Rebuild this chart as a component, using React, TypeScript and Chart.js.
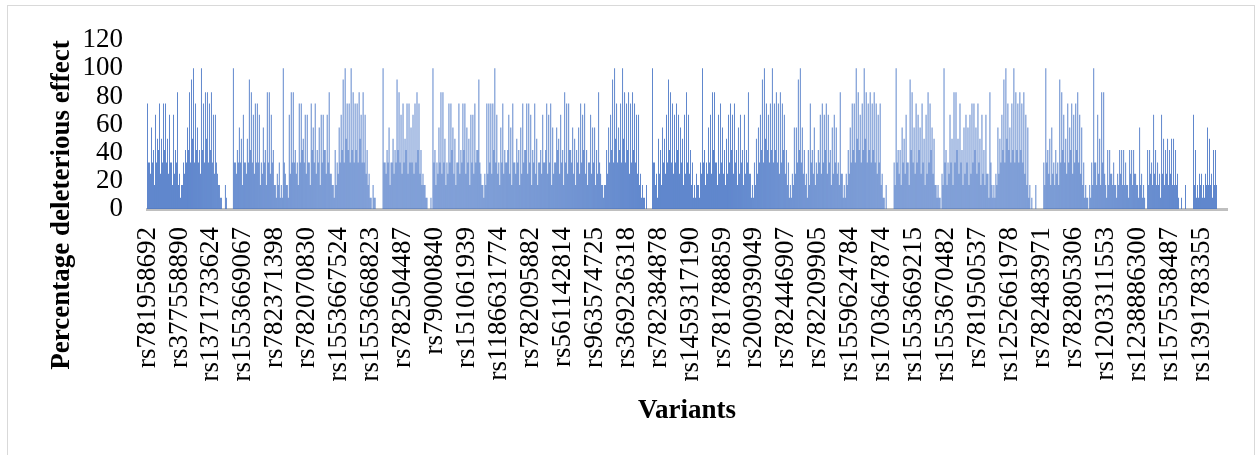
import React, { useEffect, useRef } from 'react';
import { Chart, registerables } from 'chart.js';

Chart.register(...registerables);

// Tick labels shown on the category axis (one every LABEL_STEP variants)
const shownLabels = [
  'rs781958692', 'rs377558890', 'rs1371733624', 'rs1553669067', 'rs782371398',
  'rs782070830', 'rs1553667524', 'rs1553668823', 'rs782504487', 'rs79000840',
  'rs151061939', 'rs1186631774', 'rs782095882', 'rs561142814', 'rs963574725',
  'rs369236318', 'rs782384878', 'rs1459317190', 'rs781788859', 'rs200939049',
  'rs782446907', 'rs782209905', 'rs1559624784', 'rs1703647874', 'rs1553669215',
  'rs1553670482', 'rs781950537', 'rs1252661978', 'rs782483971', 'rs782805306',
  'rs1203311553', 'rs1238886300', 'rs1575538487', 'rs1391783355',
];
const LABEL_STEP = 32;

// Percentage deleterious effect.
// "peak" arrays: the taller, thin bars; "fill" arrays: the dense low bars between them.
const peakA = [
  75, 33, 58, 42, 67, 50, 75, 50, 75, 75,
  50, 67, 33, 67, 42, 83, 25, 17, 33, 42,
  58, 83, 92, 100, 75, 58, 42, 100, 75, 83,
  83, 75, 83, 67, 67, 25, 17, 8, 0, 17,
  0, 0, 0,
];
const fillA = [
  33, 25, 33, 17, 33, 42, 25, 33, 42, 33,
  25, 33, 17, 25, 33, 17, 8, 17, 25, 33,
  42, 33, 50, 33, 42, 33, 25, 42, 33, 50,
  33, 42, 33, 25, 33, 17, 8, 0, 0, 8,
  0, 0, 0,
];
const peakB = [
  100, 33, 42, 58, 50, 67, 33, 50, 92, 83,
  67, 75, 75, 67, 33, 58, 42, 83, 83, 67,
  42, 17, 25, 33, 17, 100, 25, 17, 67, 83,
  83, 42, 33, 75, 75, 50, 67, 67, 33, 75,
  58, 75, 42, 58, 67, 67, 42, 67, 83, 25,
  17, 42, 33, 58, 67, 92, 100, 75, 75, 100,
  83, 75, 75, 83, 67, 83, 67, 42, 25, 8,
  17, 8, 0, 0, 0,
];
const fillB = [
  33, 25, 33, 33, 17, 33, 25, 33, 42, 33,
  25, 33, 33, 17, 25, 33, 17, 33, 25, 33,
  17, 8, 17, 8, 8, 33, 17, 8, 25, 33,
  33, 25, 17, 33, 42, 33, 25, 33, 17, 42,
  33, 25, 33, 17, 33, 42, 25, 33, 25, 17,
  8, 17, 25, 33, 42, 33, 50, 42, 33, 42,
  33, 42, 33, 50, 33, 33, 25, 17, 8, 0,
  8, 0, 0, 0, 0,
];
const peakC = [
  100, 33, 42, 58, 33, 50, 42, 92, 83, 67,
  75, 50, 75, 75, 58, 67, 75, 83, 75, 42,
  25, 17, 8, 0, 8, 100, 42, 33, 58, 83,
  83, 50, 33, 75, 75, 58, 50, 33, 75, 42,
  75, 75, 58, 50, 67, 67, 75, 42, 92, 25,
  17, 25, 75, 75, 75, 75, 100, 67, 33, 58,
  75, 42, 33, 67, 58, 75, 33, 50, 42, 58,
  75, 42, 75, 75, 67, 42, 75, 50, 33, 42,
  67, 33, 75, 67, 75, 58, 33, 58, 50, 67,
  42, 83, 75, 75, 42, 58, 50, 42, 58, 75,
  67, 75, 42, 33, 67, 58, 58, 42, 83, 25,
  17, 17, 42, 58, 67, 92, 100, 75, 58, 75,
  100, 83, 75, 83, 75, 83, 75, 67, 67, 25,
  17, 8, 17, 0, 0,
];
const fillC = [
  33, 25, 33, 17, 33, 25, 33, 42, 33, 25,
  33, 42, 25, 33, 33, 25, 33, 42, 25, 17,
  17, 8, 0, 0, 0, 33, 17, 25, 33, 25,
  33, 17, 25, 33, 42, 25, 17, 33, 25, 33,
  42, 25, 33, 17, 33, 25, 33, 42, 33, 17,
  8, 17, 25, 33, 25, 42, 33, 25, 17, 33,
  25, 33, 42, 25, 17, 33, 25, 33, 17, 25,
  33, 42, 25, 33, 17, 33, 25, 17, 33, 25,
  33, 42, 25, 33, 17, 25, 33, 42, 25, 33,
  17, 33, 25, 42, 33, 25, 17, 33, 25, 33,
  42, 25, 17, 33, 25, 33, 17, 25, 33, 17,
  8, 17, 25, 33, 42, 33, 50, 33, 42, 33,
  50, 33, 42, 25, 33, 42, 33, 25, 17, 8,
  8, 0, 0, 0, 0,
];
const peakD = [
  100, 33, 25, 50, 42, 58, 50, 67, 92, 83,
  75, 67, 75, 67, 58, 50, 67, 83, 67, 42,
  33, 17, 25, 17, 33, 100, 42, 33, 58, 67,
  83, 83, 33, 67, 75, 58, 42, 50, 67, 75,
  67, 75, 42, 58, 67, 42, 67, 42, 83, 25,
  17, 33, 50, 58, 67, 92, 100, 75, 67, 75,
  100, 75, 83, 75, 83, 75, 67, 42, 33, 17,
  25, 58, 58, 92, 100, 58, 42, 25, 42, 75,
  42, 58, 33, 42, 67, 75, 67, 75, 67, 42,
  58, 67, 58, 33, 83, 25, 17, 25, 42, 58,
  75, 75, 100, 83, 67, 75, 100, 83, 75, 83,
  75, 83, 75, 67, 75, 25, 8, 17, 0, 0,
  0,
];
const fillD = [
  33, 17, 8, 25, 17, 33, 25, 33, 42, 33,
  25, 33, 42, 25, 33, 17, 25, 33, 25, 17,
  8, 8, 17, 8, 25, 33, 17, 25, 33, 25,
  42, 33, 17, 25, 33, 25, 17, 25, 33, 42,
  25, 33, 17, 25, 33, 17, 25, 33, 25, 8,
  8, 17, 25, 33, 42, 33, 50, 42, 33, 42,
  33, 42, 33, 25, 33, 42, 25, 17, 8, 8,
  17, 25, 33, 42, 33, 25, 17, 8, 17, 33,
  25, 17, 25, 33, 25, 33, 42, 25, 33, 17,
  25, 33, 25, 17, 25, 8, 8, 17, 25, 33,
  42, 33, 50, 42, 33, 42, 50, 33, 42, 33,
  42, 33, 25, 33, 17, 8, 0, 0, 0, 0,
  0,
];
const peakE = [
  33, 100, 42, 42, 58, 50, 67, 33, 92, 83,
  58, 75, 67, 58, 75, 50, 67, 83, 75, 58,
  50, 17, 17, 8, 25, 100, 42, 33, 67, 50,
  83, 83, 50, 75, 42, 58, 67, 58, 67, 75,
  75, 58, 75, 50, 67, 42, 67, 25, 83, 17,
  17, 25, 58, 50, 67, 92, 100, 75, 58, 75,
  100, 83, 75, 83, 75, 83, 67, 58, 17, 8,
  0, 17, 0, 0, 0,
];
const fillE = [
  17, 33, 25, 17, 33, 25, 33, 17, 42, 33,
  25, 33, 42, 25, 33, 17, 25, 33, 42, 25,
  17, 8, 8, 0, 17, 33, 17, 25, 33, 17,
  33, 42, 25, 33, 17, 25, 33, 17, 25, 33,
  42, 25, 33, 17, 25, 17, 25, 8, 33, 8,
  8, 17, 25, 33, 42, 33, 50, 42, 33, 42,
  33, 42, 33, 42, 33, 25, 17, 8, 0, 0,
  0, 0, 0, 0, 0,
];
const peakF = [
  33, 100, 42, 50, 58, 33, 42, 33, 92, 83,
  67, 50, 75, 58, 75, 67, 75, 83, 67, 58,
  33, 17, 8, 17, 33, 100, 33, 67, 50, 83,
  83, 17, 42, 42, 25, 33, 17, 25, 42, 42,
  42, 33, 17, 42, 42, 42, 25, 17, 58, 25,
  17, 0, 42, 42, 33, 67, 42, 33, 25, 67,
  50, 42, 50, 42, 50, 50, 42, 25, 0, 8,
  0, 17, 0, 0, 0, 67, 42, 17, 25, 25,
  17, 25, 58, 50, 25, 42, 42, 0, 0, 0,
  0, 0,
];
const fillF = [
  17, 33, 25, 17, 25, 17, 25, 17, 33, 42,
  33, 25, 33, 42, 25, 33, 42, 33, 25, 17,
  8, 8, 0, 8, 17, 33, 17, 25, 17, 33,
  25, 8, 17, 25, 17, 17, 8, 17, 25, 17,
  17, 17, 8, 25, 17, 25, 17, 8, 17, 8,
  8, 0, 17, 25, 17, 25, 17, 17, 8, 25,
  17, 25, 17, 25, 17, 17, 17, 8, 0, 0,
  0, 0, 0, 0, 0, 17, 8, 8, 17, 8,
  8, 17, 17, 17, 8, 17, 17, 0, 0, 0,
  0, 0,
];

const pair = (peak: number[], fill: number[]) => peak.flatMap((v, i) => [v, fill[i] ?? 0]);

const values: number[] = [
  ...pair(peakA, fillA),
  ...pair(peakB, fillB),
  ...pair(peakC, fillC),
  ...pair(peakD, fillD),
  ...pair(peakE, fillE),
  ...pair(peakF, fillF),
];
const categories: string[] = values.map((_, i) =>
  i % LABEL_STEP === 0 ? shownLabels[i / LABEL_STEP] ?? '' : ''
);

const yTicks = { min: 0, max: 120, step: 20 };
const yTitle = 'Percentage deleterious effect';
const xTitle = 'Variants';

const FONT = '"Liberation Serif", "Times New Roman", Times, serif';

export default function App() {
  const ref = useRef<HTMLCanvasElement | null>(null);

  useEffect(() => {
    if (!ref.current) return;
    const titles = {
      id: 'customTitles',
      afterDraw(chart: any) {
        const { ctx, chartArea } = chart;
        ctx.save();
        ctx.fillStyle = '#000';
        ctx.font = `bold 27px ${FONT}`;
        ctx.textAlign = 'center';
        ctx.textBaseline = 'middle';
        ctx.fillText(xTitle, (chartArea.left + chartArea.right) / 2, 411);
        ctx.translate(62, 205);
        ctx.rotate(-Math.PI / 2);
        ctx.fillText(yTitle, 0, 0);
        ctx.restore();
      },
    };
    const chart = new Chart(ref.current, {
      type: 'bar',
      data: {
        labels: categories,
        datasets: [
          {
            data: values,
            backgroundColor: '#4472C4',
            borderWidth: 0,
            barPercentage: 0.85,
            categoryPercentage: 1,
          },
        ],
      },
      options: {
        responsive: false,
        animation: false,
        events: [],
        layout: { padding: { left: 0, top: 34, right: 30, bottom: 0 } },
        plugins: {
          legend: { display: false },
          tooltip: { enabled: false },
          title: { display: false },
        },
        scales: {
          x: {
            grid: { display: false, drawTicks: false },
            border: { display: true, color: '#bfbfbf', width: 3 },
            ticks: {
              autoSkip: false,
              minRotation: 90,
              maxRotation: 90,
              padding: 18,
              color: '#000',
              font: { family: FONT, size: 27 },
              callback: (_v: any, i: number) => categories[i] || null,
            },
            afterFit: (s: any) => {
              s.height = 246;
            },
          },
          y: {
            min: yTicks.min,
            max: yTicks.max,
            grid: { display: false, drawTicks: false },
            border: { display: false },
            ticks: {
              stepSize: yTicks.step,
              autoSkip: false,
              padding: 24,
              color: '#000',
              font: { family: FONT, size: 27 },
            },
            afterFit: (s: any) => {
              s.width = 147;
            },
          },
        },
      },
      plugins: [titles],
    } as any);
    return () => chart.destroy();
  }, []);

  return (
    <div style={{ position: 'absolute', left: 0, top: 0, width: 1257, height: 455, overflow: 'hidden', background: '#fff' }}>
      <div
        style={{
          position: 'absolute',
          left: 7,
          top: 5,
          width: 1248,
          height: 470,
          border: '1px solid #d9d9d9',
          boxSizing: 'border-box',
        }}
      />
      <canvas ref={ref} width={1257} height={455} style={{ position: 'absolute', left: 0, top: 0 }} />
    </div>
  );
}
